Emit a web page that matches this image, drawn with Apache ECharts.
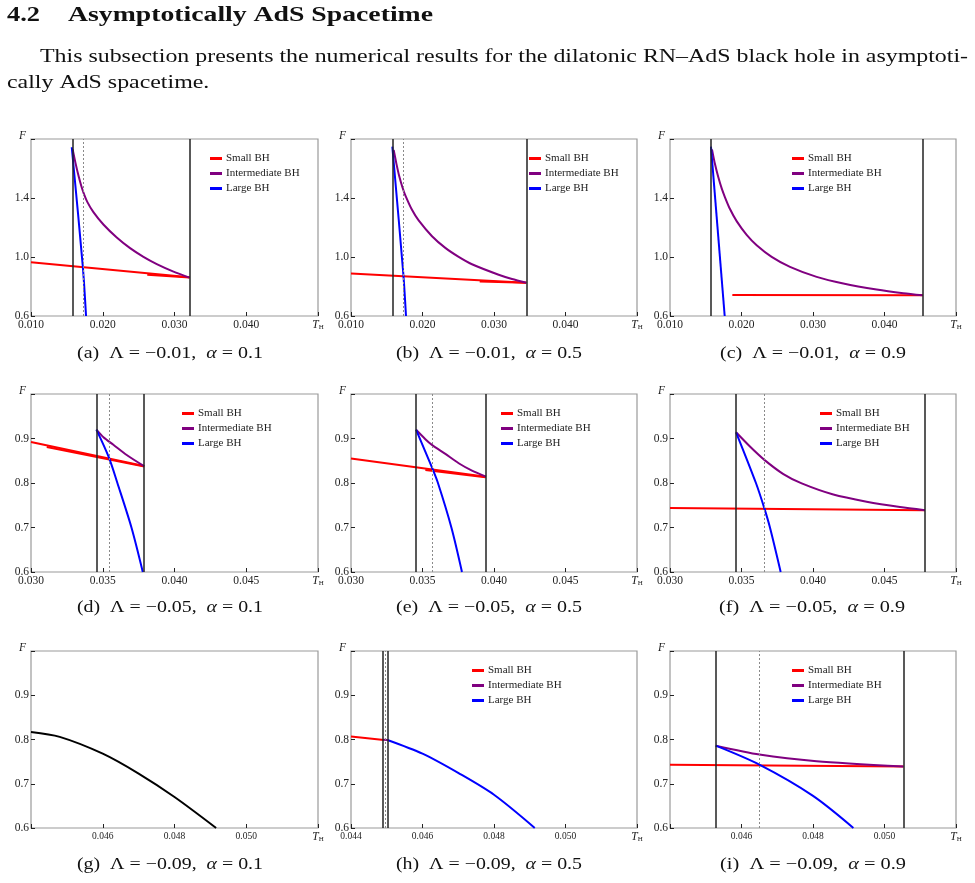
<!DOCTYPE html>
<html>
<head>
<meta charset="utf-8">
<script src="https://cdn.jsdelivr.net/npm/echarts@6/dist/echarts.min.js"></script>
<style>
html, body { margin: 0; padding: 0; background: #fff; }
#page { width: 975px; height: 883px; }
</style>
</head>
<body>
<div id="page"></div>
<script>
// ---- curves (T_H, F) ----
// (a) Lambda=-0.01, alpha=0.1
const a_small = [[0.0100, 0.964], [0.03209, 0.862]];
const a_small2 = [[0.0262, 0.879], [0.0321, 0.861]];
const a_inter = [[0.01581, 1.730], [0.01619, 1.640], [0.01665, 1.545], [0.01702, 1.480], [0.01740, 1.425], [0.01786, 1.372],
  [0.01870, 1.304], [0.02009, 1.220], [0.02195, 1.132], [0.02381, 1.060], [0.02567, 1.001], [0.02753, 0.952], [0.02986, 0.901], [0.03209, 0.860]];
const a_large = [[0.01568, 1.744], [0.01721, 0.941], [0.01767, 0.60]];
const a_vlines = [0.01582, 0.03209];
const a_dash = [0.01726];
// (b) Lambda=-0.01, alpha=0.5
const b_small = [[0.0100, 0.888], [0.03452, 0.826]];
const b_small2 = [[0.0280, 0.834], [0.0345, 0.825]];
const b_inter = [[0.01597, 1.725], [0.01634, 1.635], [0.01676, 1.545], [0.01718, 1.475], [0.01760, 1.418], [0.01853, 1.320],
  [0.01946, 1.248], [0.02133, 1.141], [0.02319, 1.062], [0.02506, 1.001], [0.02692, 0.951], [0.03065, 0.880], [0.03252, 0.851], [0.03452, 0.826]];
const b_large = [[0.01578, 1.748], [0.01732, 0.883], [0.01769, 0.60]];
const b_vlines = [0.01578, 0.03452];
const b_dash = [0.01732];
// (c) Lambda=-0.01, alpha=0.9
const c_small = [[0.01872, 0.743], [0.04534, 0.740]];
const c_inter = [[0.01587, 1.730], [0.01629, 1.630], [0.01676, 1.540], [0.01723, 1.465], [0.01769, 1.405], [0.01839, 1.325],
  [0.01932, 1.243], [0.02072, 1.150], [0.02212, 1.080], [0.02422, 1.001], [0.02678, 0.933], [0.03051, 0.865], [0.03424, 0.820],
  [0.03890, 0.779], [0.04263, 0.754], [0.04534, 0.740]];
const c_large = [[0.01573, 1.748], [0.01765, 0.60]];
const c_vlines = [0.01573, 0.04534];
const c_dash = [];
// (d) Lambda=-0.05, alpha=0.1
const d_small = [[0.0300, 0.892], [0.03788, 0.838]];
const d_small2 = [[0.0311, 0.881], [0.0379, 0.837]];
const d_inter = [[0.03456, 0.920], [0.03505, 0.903], [0.03574, 0.886], [0.03667, 0.863], [0.03788, 0.838]];
const d_large = [[0.03456, 0.920], [0.03542, 0.858], [0.03602, 0.80], [0.03700, 0.70], [0.03779, 0.60]];
const d_vlines = [0.03456, 0.03788];
const d_dash = [0.03542];
// (e) Lambda=-0.05, alpha=0.5
const e_small = [[0.0300, 0.855], [0.03944, 0.814]];
const e_small2 = [[0.0352, 0.829], [0.0394, 0.813]];
const e_inter = [[0.03455, 0.9195], [0.03520, 0.8985], [0.03566, 0.8857], [0.03660, 0.8654], [0.03753, 0.8444], [0.03846, 0.8278], [0.03944, 0.8143]];
const e_large = [[0.03455, 0.920], [0.03566, 0.835], [0.03608, 0.80], [0.03702, 0.70], [0.03776, 0.60]];
const e_vlines = [0.03455, 0.03944];
const e_dash = [0.03566];
// (f) Lambda=-0.05, alpha=0.9
const f_small = [[0.0300, 0.744], [0.04783, 0.739]];
const f_inter = [[0.03462, 0.914], [0.03559, 0.882], [0.03660, 0.852], [0.03793, 0.820], [0.03921, 0.799], [0.04142, 0.774],
  [0.04375, 0.758], [0.04608, 0.746], [0.04783, 0.739]];
const f_large = [[0.03462, 0.914], [0.03601, 0.80], [0.0366, 0.743], [0.03699, 0.70], [0.03774, 0.60]];
const f_vlines = [0.03462, 0.04783];
const f_dash = [0.0366];
// (g) Lambda=-0.09, alpha=0.1 : single branch
const g_single = [[0.0440, 0.817], [0.0448, 0.806], [0.0460, 0.768], [0.0470, 0.723], [0.0480, 0.670], [0.04916, 0.60]];
// (h) Lambda=-0.09, alpha=0.5
const h_small = [[0.0440, 0.807], [0.04492, 0.799]];
const h_inter = [[0.04490, 0.7995], [0.04502, 0.799]];
const h_large = [[0.04502, 0.799], [0.0460, 0.768], [0.04701, 0.724], [0.0480, 0.675], [0.04914, 0.60]];
const h_vlines = [0.04490, 0.04502];
const h_dash = [0.04496];
// (i) Lambda=-0.09, alpha=0.9
const i_small = [[0.0440, 0.743], [0.05053, 0.739]];
const i_inter = [[0.04528, 0.786], [0.0465, 0.766], [0.0481, 0.751], [0.05053, 0.739]];
const i_large = [[0.04528, 0.786], [0.0465, 0.743], [0.04799, 0.673], [0.04913, 0.60]];
const i_vlines = [0.04528, 0.05053];
const i_dash = [0.0465];

// axis ranges [min, max, interval]
const xRow1 = [0.010, 0.050, 0.010];
const xRow2 = [0.030, 0.050, 0.005];
const xRow3 = [0.044, 0.052, 0.002];
const yRow1 = [0.6, 1.8, 0.4];
const yRow23 = [0.6, 1.0, 0.1];

const legendNames = ['Small BH', 'Intermediate BH', 'Large BH'];
const captions = [
  ['(a)', '\u22120.01', '0.1'], ['(b)', '\u22120.01', '0.5'], ['(c)', '\u22120.01', '0.9'],
  ['(d)', '\u22120.05', '0.1'], ['(e)', '\u22120.05', '0.5'], ['(f)', '\u22120.05', '0.9'],
  ['(g)', '\u22120.09', '0.1'], ['(h)', '\u22120.09', '0.5'], ['(i)', '\u22120.09', '0.9']
];

const SERIF = '"Liberation Serif", "DejaVu Serif", serif';
const RED = '#ff0000', PURPLE = '#800080', BLUE = '#0000ff';

// layout of the nine panels
const panels = [
  { box: [31, 139, 287, 177], x: xRow1, y: yRow1, small: a_small, small2: a_small2, inter: a_inter, large: a_large, v: a_vlines, d: a_dash, leg: [210, 153], cap: [170, 354] },
  { box: [351, 139, 286, 177], x: xRow1, y: yRow1, small: b_small, small2: b_small2, inter: b_inter, large: b_large, v: b_vlines, d: b_dash, leg: [529, 153], cap: [489, 354] },
  { box: [670, 139, 286, 177], x: xRow1, y: yRow1, small: c_small, inter: c_inter, large: c_large, v: c_vlines, d: c_dash, leg: [792, 153], cap: [813, 354] },
  { box: [31, 394, 287, 178], x: xRow2, y: yRow23, small: d_small, small2: d_small2, inter: d_inter, large: d_large, v: d_vlines, d: d_dash, leg: [182, 408], cap: [170, 608] },
  { box: [351, 394, 286, 178], x: xRow2, y: yRow23, small: e_small, small2: e_small2, inter: e_inter, large: e_large, v: e_vlines, d: e_dash, leg: [501, 408], cap: [489, 608] },
  { box: [670, 394, 286, 178], x: xRow2, y: yRow23, small: f_small, inter: f_inter, large: f_large, v: f_vlines, d: f_dash, leg: [820, 408], cap: [812, 608] },
  { box: [31, 651, 287, 177], x: xRow3, y: yRow23, single: g_single, hideMin: true, cap: [170, 865] },
  { box: [351, 651, 286, 177], x: xRow3, y: yRow23, small: h_small, inter: h_inter, large: h_large, v: h_vlines, d: h_dash, leg: [472, 665], cap: [489, 865] },
  { box: [670, 651, 286, 177], x: xRow3, y: yRow23, small: i_small, inter: i_inter, large: i_large, v: i_vlines, d: i_dash, hideMin: true, leg: [792, 665], cap: [813, 865] }
];

const measureCtx = document.createElement('canvas').getContext('2d');
function fitScale(text, font, target) {
  measureCtx.font = font;
  return target / measureCtx.measureText(text).width;
}

const grid = [], xAxis = [], yAxis = [], series = [], legend = [], graphic = [];

panels.forEach((p, i) => {
  const row3 = p.x === xRow3;
  grid.push({
    left: p.box[0], top: p.box[1], width: p.box[2], height: p.box[3],
    show: true, borderColor: '#9a9a9a', borderWidth: 1.2, backgroundColor: 'transparent'
  });
  xAxis.push({
    gridIndex: i, type: 'value', min: p.x[0], max: p.x[1], interval: p.x[2],
    axisLine: { show: false }, splitLine: { show: false },
    axisTick: { inside: true, length: 4, lineStyle: { color: '#222', width: 1 } },
    axisLabel: {
      margin: 3, fontFamily: SERIF, fontSize: row3 ? 9.5 : 11.5, color: '#222',
      formatter: v => {
        if (Math.abs(v - p.x[1]) < 1e-9) return '';
        if (p.hideMin && Math.abs(v - p.x[0]) < 1e-9) return '';
        return v.toFixed(3);
      }
    },
    name: '{i|T}{s|H}', nameLocation: 'end', nameGap: 0,
    nameTextStyle: {
      align: 'center', verticalAlign: 'top', padding: [3, 0, 0, 0],
      rich: {
        i: { fontFamily: SERIF, fontStyle: 'italic', fontSize: 11.5, color: '#222' },
        s: { fontFamily: SERIF, fontSize: 7, color: '#222', padding: [5, 0, 0, 0] }
      }
    }
  });
  yAxis.push({
    gridIndex: i, type: 'value', min: p.y[0], max: p.y[1], interval: p.y[2],
    axisLine: { show: false }, splitLine: { show: false },
    axisTick: { inside: true, length: 4, lineStyle: { color: '#222', width: 1 } },
    axisLabel: {
      margin: 2, fontFamily: SERIF, fontSize: 11.5, color: '#222',
      formatter: v => Math.abs(v - p.y[1]) < 1e-9 ? '' : v.toFixed(1)
    },
    name: 'F', nameLocation: 'end', nameGap: 3,
    nameTextStyle: { fontFamily: SERIF, fontStyle: 'italic', fontSize: 11.5, color: '#222', align: 'right', verticalAlign: 'middle', padding: [0, 5, 0, 0] }
  });

  const base = { type: 'line', xAxisIndex: i, yAxisIndex: i, symbol: 'none', animation: false, z: 3 };
  if (p.single) {
    series.push(Object.assign({}, base, { name: 'F(T)', data: p.single, smooth: 0.3, lineStyle: { color: '#000', width: 2 }, itemStyle: { color: '#000' } }));
  } else {
    // guide lines: solid black verticals, dashed grey transition line
    const guides = p.v.map(t => ({ xAxis: t, lineStyle: { color: '#222', width: 1.5, type: 'solid' } }))
      .concat(p.d.map(t => ({ xAxis: t, lineStyle: { color: '#8a8a8a', width: 1, type: [2, 2] } })));
    series.push(Object.assign({}, base, {
      name: 'guides', data: [], z: 1,
      markLine: { symbol: 'none', silent: true, animation: false, precision: 6, label: { show: false }, data: guides }
    }));
    series.push(Object.assign({}, base, { name: 'Small BH', data: p.small, lineStyle: { color: RED, width: 2 }, itemStyle: { color: RED } }));
    if (p.small2) {
      series.push(Object.assign({}, base, { name: 'Small BH', data: p.small2, lineStyle: { color: RED, width: 2 }, itemStyle: { color: RED } }));
    }
    series.push(Object.assign({}, base, { name: 'Intermediate BH', data: p.inter, smooth: 0.25, lineStyle: { color: PURPLE, width: 2 }, itemStyle: { color: PURPLE } }));
    series.push(Object.assign({}, base, { name: 'Large BH', data: p.large, smooth: 0.3, lineStyle: { color: BLUE, width: 2 }, itemStyle: { color: BLUE } }));
    legend.push({
      orient: 'vertical', left: p.leg[0], top: p.leg[1], padding: 0,
      itemWidth: 12, itemHeight: 3, itemGap: 4, icon: 'rect', selectedMode: false,
      textStyle: { fontFamily: SERIF, fontSize: 11, color: '#222', padding: [0, 0, 0, -1] },
      data: legendNames
    });
  }

  // sub-figure caption
  const c = captions[i];
  const capPlain = c[0] + '  \u039b = ' + c[1] + ',  \u03b1 = ' + c[2];
  const capFont = '16px ' + SERIF;
  graphic.push({
    type: 'text', x: p.cap[0], y: p.cap[1], scaleX: fitScale(capPlain, capFont, 186), originX: 0, originY: 0,
    style: {
      text: c[0] + '  \u039b = ' + c[1] + ',  {it|\u03b1} = ' + c[2],
      font: capFont, fill: '#111', align: 'center', verticalAlign: 'middle', textAlign: 'center', textVerticalAlign: 'middle',
      rich: { it: { fontFamily: SERIF, fontSize: 16, fontStyle: 'italic', fill: '#111', color: '#111' } }
    }
  });
});

// section heading and body text
const headFont = 'bold 21px ' + SERIF;
const bodyFont = '18px ' + SERIF;
const body1 = 'This subsection presents the numerical results for the dilatonic RN\u2013AdS black hole in asymptoti-';
const body2 = 'cally AdS spacetime.';
const bodyScale = fitScale(body1, bodyFont, 928);
[
  { text: '4.2', x: 7, y: 16, font: headFont, w: 33 },
  { text: 'Asymptotically AdS Spacetime', x: 68, y: 16, font: headFont, w: 365 },
  { text: body1, x: 40, y: 57, font: bodyFont, w: 928 },
  { text: body2, x: 7, y: 83, font: bodyFont, w: null }
].forEach(t => {
  graphic.push({
    type: 'text', x: t.x, y: t.y, scaleX: t.w ? fitScale(t.text, t.font, t.w) : bodyScale,
    style: { text: t.text, font: t.font, fill: '#111', align: 'left', verticalAlign: 'middle', textAlign: 'left', textVerticalAlign: 'middle' }
  });
});

const chart = echarts.init(document.getElementById('page'), null, { renderer: 'canvas' });
chart.setOption({
  backgroundColor: '#fff',
  animation: false,
  grid: grid,
  xAxis: xAxis,
  yAxis: yAxis,
  legend: legend,
  series: series,
  graphic: graphic
});
</script>
</body>
</html>
